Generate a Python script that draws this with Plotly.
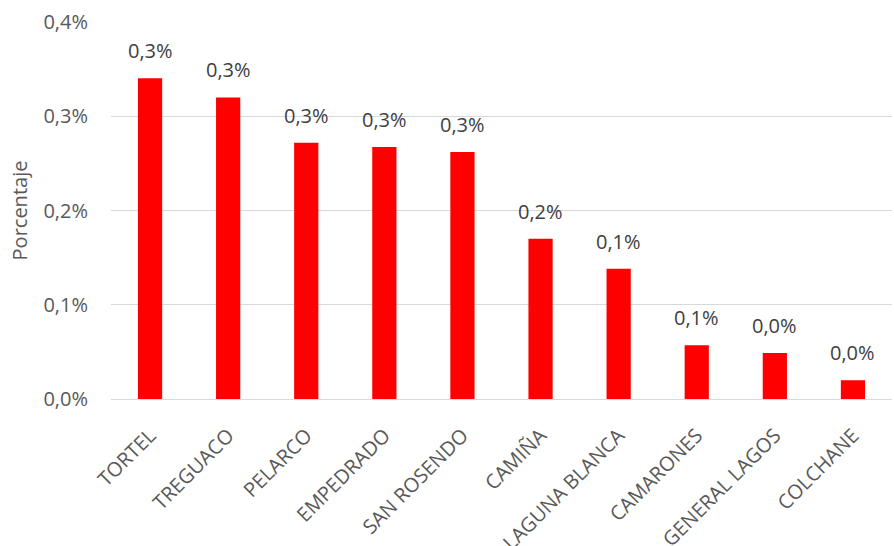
import plotly.graph_objects as go

categories = ["TORTEL", "TREGUACO", "PELARCO", "EMPEDRADO", "SAN ROSENDO",
              "CAMIÑA", "LAGUNA BLANCA", "CAMARONES", "GENERAL LAGOS", "COLCHANE"]
values = [0.003404, 0.003199, 0.002718, 0.002675, 0.002622,
          0.001699, 0.001383, 0.000570, 0.000488, 0.000199]
y_ticks = [0, 0.001, 0.002, 0.003, 0.004]

FONT = "Open Sans"
fig = go.Figure()
fig.add_trace(go.Bar(
    x=categories, y=values,
    marker=dict(color="#ff0000", line=dict(width=0)),
    width=0.31,
))

for c, v in zip(categories, values):
    fig.add_annotation(
        x=c, y=v, xref="x", yref="y",
        text=f"{v*100:.1f}%".replace(".", ","),
        showarrow=False, yanchor="bottom", yshift=12,
        font=dict(family=FONT, size=20, color="#404040"),
    )

fig.update_layout(
    width=894, height=546,
    margin=dict(l=111, r=2, t=22, b=147),
    paper_bgcolor="white", plot_bgcolor="white",
    separators=",.",
    showlegend=False,
    font=dict(family=FONT, size=20, color="#595959"),
)
fig.update_yaxes(
    range=[0, 0.004], tickvals=y_ticks, tickformat=".1%",
    showgrid=True, gridcolor="#d9d9d9", gridwidth=1,
    zeroline=True, zerolinecolor="#d9d9d9", zerolinewidth=1,
    showline=False, ticks="outside", ticklen=18, tickcolor="rgba(0,0,0,0)",
    automargin=False,
    title=dict(text="Porcentaje", font=dict(family=FONT, size=20, color="#595959"), standoff=10),
    tickfont=dict(family=FONT, size=20, color="#595959"),
)
fig.update_xaxes(
    tickangle=-45, showgrid=False, showline=False, automargin=False,
    ticks="outside", ticklen=16, tickcolor="rgba(0,0,0,0)",
    tickfont=dict(family=FONT, size=20, color="#595959"),
)

fig.write_html("out.html")
